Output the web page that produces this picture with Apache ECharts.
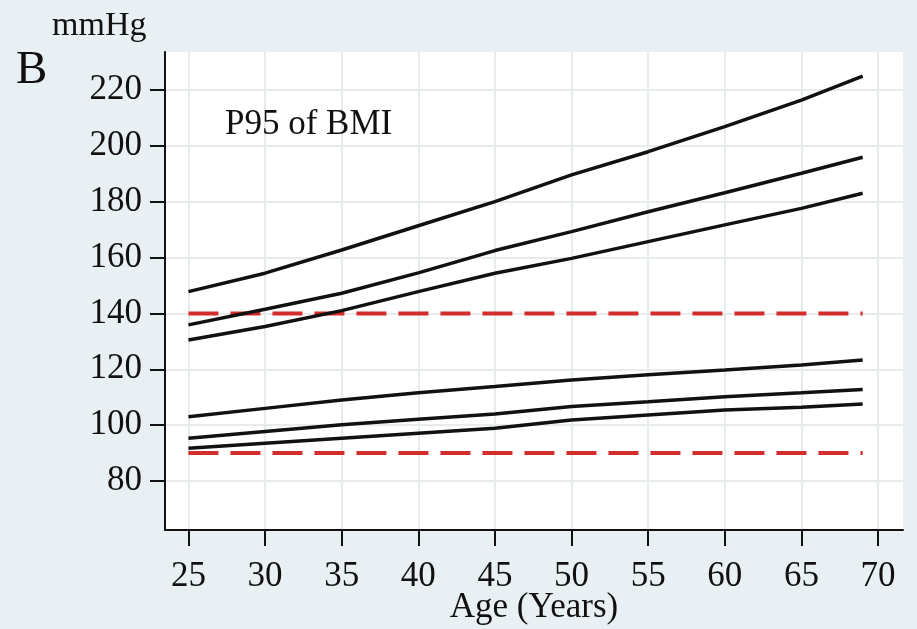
<!DOCTYPE html>
<html>
<head>
<meta charset="utf-8">
<script src="https://cdn.jsdelivr.net/npm/echarts@6/dist/echarts.min.js"></script>
<style>
html,body{margin:0;padding:0;background:#e9f0f3;}
#chart{width:917px;height:629px;}
</style>
</head>
<body>
<div id="chart"></div>
<script>
const ages = [25, 30, 35, 40, 45, 50, 55, 60, 65, 69];
const line1 = [147.8, 154.4, 162.7, 171.4, 180.0, 189.6, 197.9, 206.9, 216.4, 225.0];
const line2 = [135.9, 141.5, 147.2, 154.5, 162.5, 169.3, 176.4, 183.2, 190.2, 195.9];
const line3 = [130.5, 135.3, 141.0, 147.8, 154.4, 159.7, 165.7, 171.7, 177.6, 183.0];
const line4 = [103.0, 106.0, 109.0, 111.6, 113.8, 116.2, 118.0, 119.7, 121.5, 123.3];
const line5 = [95.3, 97.7, 100.1, 102.1, 104.0, 106.7, 108.4, 110.2, 111.6, 112.8];
const line6 = [91.7, 93.5, 95.3, 97.1, 98.9, 101.8, 103.6, 105.4, 106.4, 107.6];
const refLevels = [140, 90];
const refAges = [25, 69];
const xTicks = [25, 30, 35, 40, 45, 50, 55, 60, 65, 70];
const yTicks = [80, 100, 120, 140, 160, 180, 200, 220];

const FONT = 'Liberation Serif';
const chart = echarts.init(document.getElementById('chart'));

const blackSeries = [line1, line2, line3, line4, line5, line6].map(v => ({
  type: 'line',
  data: ages.map((a, i) => [a, v[i]]),
  symbol: 'none',
  lineStyle: { color: '#111', width: 3.5 },
  z: 3
}));
const refSeries = refLevels.map(l => ({
  type: 'line',
  data: refAges.map(a => [a, l]),
  symbol: 'none',
  lineStyle: { color: '#d42b2b', width: 4, type: [30, 12] },
  z: 2
}));

chart.setOption({
  backgroundColor: '#e9f0f3',
  animation: false,
  grid: { left: 165, right: 14, top: 52, bottom: 99, show: true, backgroundColor: '#ffffff', borderWidth: 0, containLabel: false, outerBoundsMode: 'none' },
  xAxis: {
    type: 'value', min: 23.47, max: 71.63,
    name: 'Age (Years)', nameLocation: 'middle', nameGap: 60, nameMoveOverlap: false,
    nameTextStyle: { fontFamily: FONT, fontSize: 35, color: '#111' },
    axisLine: { show: true, onZero: false, lineStyle: { color: '#111', width: 2 } },
    axisTick: { show: true, length: 16, customValues: xTicks, lineStyle: { color: '#111', width: 2 } },
    axisLabel: { customValues: xTicks, margin: 29, fontFamily: FONT, fontSize: 35, color: '#111' },
    splitLine: { show: true, lineStyle: { color: '#e6ecee', width: 2 } }
  },
  yAxis: {
    type: 'value', min: 62.45, max: 233.6,
    axisLine: { show: true, onZero: false, lineStyle: { color: '#111', width: 2 } },
    axisTick: { show: true, length: 15, customValues: yTicks, lineStyle: { color: '#111', width: 2 } },
    axisLabel: { customValues: yTicks, margin: 23, fontFamily: FONT, fontSize: 35, color: '#111' },
    splitLine: { show: true, lineStyle: { color: '#e6ecee', width: 2 } }
  },
  graphic: [
    { type: 'text', left: 52, top: 9, style: { text: 'mmHg', fontFamily: FONT, fontSize: 34, fill: '#111' } },
    { type: 'text', left: 16, top: 47, style: { text: 'B', fontFamily: FONT, fontSize: 47, fill: '#111' } },
    { type: 'text', left: 225, top: 107, z: 10, style: { text: 'P95 of BMI', fontFamily: FONT, fontSize: 35, fill: '#111' } }
  ],
  series: blackSeries.concat(refSeries)
});
</script>
</body>
</html>
